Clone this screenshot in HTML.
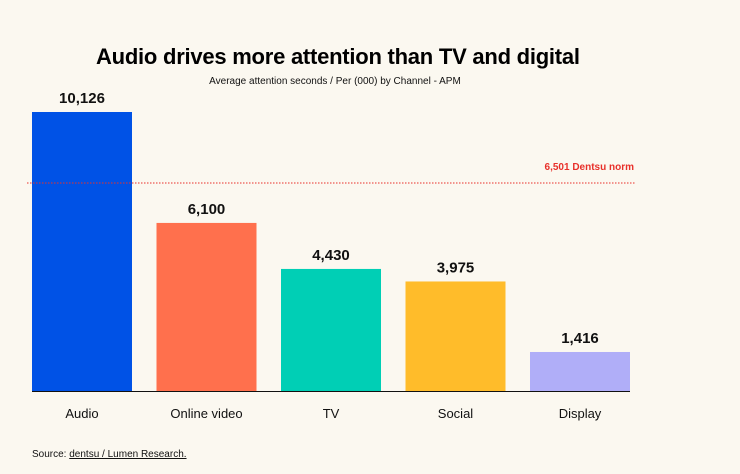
<!DOCTYPE html>
<html><head><meta charset="utf-8"><style>
body{margin:0;background:#fbf8f0;font-family:"Liberation Sans",sans-serif;}
svg{display:block}
</style></head><body>
<svg id="c" width="740" height="474">
<rect width="740" height="474" fill="#fbf8f0"/>
<text x="338" y="64" text-anchor="middle" font-size="22" font-weight="bold" fill="#000" textLength="484">Audio drives more attention than TV and digital</text>
<text x="335" y="84" text-anchor="middle" font-size="10" fill="#111">Average attention seconds / Per (000) by Channel - APM</text>
<text x="32" y="457" font-size="10" fill="#111">Source: <tspan text-decoration="underline">dentsu / Lumen Research.</tspan></text>
<g id="bars"></g>
</svg>
<script>
const categories=["Audio","Online video","TV","Social","Display"];
const values=[10126,6100,4430,3975,1416];
const valueLabels=["10,126","6,100","4,430","3,975","1,416"];
const colors=["#0052e6","#ff704d","#00cfb5","#ffbc2a","#b0aef8"];
const normValue=[6501];
const normLineLevel=[7550];
const normLabel=["6,501 Dentsu norm"];
const NS="http://www.w3.org/2000/svg";
const g=document.getElementById('bars');
const base=391, scale=279/10126, x0=32, step=124.5, bw=100;
const y=v=>base-v*scale;
function mk(t,a){const e=document.createElementNS(NS,t);for(const k in a)e.setAttribute(k,a[k]);g.appendChild(e);return e;}
categories.forEach((c,i)=>{
  const x=x0+i*step;
  const r=mk('rect',{x:x,y:y(values[i]),width:bw,height:base-y(values[i]),fill:colors[i]});
  
  
  const t=mk('text',{x:x+bw/2,y:y(values[i])-9,'text-anchor':'middle','font-size':'15','font-weight':'bold',fill:'#111'});
  t.textContent=valueLabels[i];
  
  
  const l=mk('text',{x:x+bw/2,y:418,'text-anchor':'middle','font-size':'13',fill:'#111'});
  l.textContent=c;
  
  
});
const ax=mk('line',{x1:32,x2:630,y1:base+0.5,y2:base+0.5,stroke:'#111','stroke-width':1});


const ny=y(normLineLevel[0]);
const nl=mk('line',{x1:27,x2:635,y1:ny,y2:ny,stroke:'#e8302a','stroke-width':1,'stroke-dasharray':'1.5 1.5'});


const nt=mk('text',{x:634,y:ny-13,'text-anchor':'end','font-size':'10','font-weight':'bold',fill:'#e8302a'});
nt.textContent=normLabel[0];


</script>
</body></html>
